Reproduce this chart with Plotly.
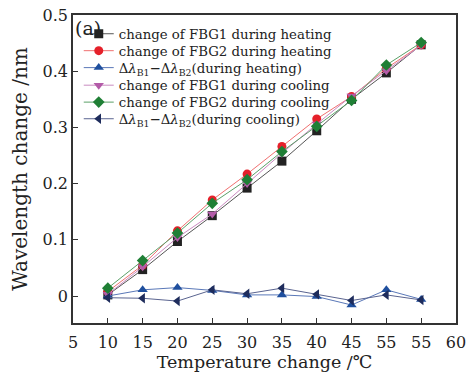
import plotly.graph_objects as go

temps = [10, 15, 20, 25, 30, 35, 40, 45, 50, 55]
tick_vals = [5, 10, 15, 20, 25, 30, 35, 40, 45, 50, 55, 60]
tick_text = ["5", "10", "15", "20", "25", "30", "35", "40", "45", "55", "55", "60"]

fbg1_heat = [0.002, 0.047, 0.097, 0.143, 0.192, 0.240, 0.294, 0.350, 0.397, 0.447]
fbg2_heat = [0.008, 0.055, 0.116, 0.171, 0.217, 0.266, 0.315, 0.355, 0.405, 0.447]
diff_heat = [0.000, 0.011, 0.015, 0.010, 0.002, 0.002, -0.001, -0.016, 0.011, -0.006]
fbg1_cool = [0.003, 0.052, 0.104, 0.146, 0.200, 0.254, 0.306, 0.356, 0.401, 0.446]
fbg2_cool = [0.014, 0.063, 0.112, 0.165, 0.207, 0.257, 0.302, 0.348, 0.411, 0.451]
diff_cool = [-0.003, -0.004, -0.009, 0.011, 0.004, 0.014, 0.003, -0.008, 0.002, -0.007]

series = [
    ("change of FBG1 during heating", fbg1_heat, "#222222", "#555555", "square"),
    ("change of FBG2 during heating", fbg2_heat, "#e5202a", "#f07070", "circle"),
    ("Δ<i>λ</i><sub>B1</sub>−Δ<i>λ</i><sub>B2</sub>(during heating)", diff_heat, "#1f4f9e", "#5a78b8", "triangle-up"),
    ("change of FBG1 during cooling", fbg1_cool, "#b35ba8", "#c98ac0", "triangle-down"),
    ("change of FBG2 during cooling", fbg2_cool, "#1f7f35", "#5aa068", "diamond"),
    ("Δ<i>λ</i><sub>B1</sub>−Δ<i>λ</i><sub>B2</sub>(during cooling)", diff_cool, "#1e2c5c", "#5a6490", "triangle-left"),
]

font_family = "DejaVu Serif"
legend_rows = [0.938, 0.883, 0.828, 0.771, 0.716, 0.662]

fig = go.Figure()
layout_legends = {}
for i, (name, vals, mcol, lcol, sym) in enumerate(series):
    lg = "legend" if i == 0 else f"legend{i + 1}"
    fig.add_trace(go.Scatter(
        x=temps, y=vals, name=name, mode="lines+markers",
        line=dict(color=lcol, width=1),
        marker=dict(symbol=sym, size=9, color=mcol),
        legend=lg,
    ))
    layout_legends[lg] = dict(
        x=0.015, y=legend_rows[i], xanchor="left", yanchor="middle",
        bgcolor="rgba(0,0,0,0)", font=dict(size=13.3, family=font_family, color="#222"),
        itemwidth=30, borderwidth=0,
    )

fig.update_layout(
    width=468, height=374,
    margin=dict(l=73, r=12, t=15, b=51, autoexpand=False),
    paper_bgcolor="white", plot_bgcolor="white",
    font=dict(family=font_family, size=13, color="#222"),
    showlegend=True,
    xaxis=dict(range=[5, 60], tickvals=tick_vals, ticktext=tick_text,
               showline=True, linecolor="#333", linewidth=1.5, mirror=True,
               ticks="inside", ticklen=5, tickcolor="#333", showgrid=False, zeroline=False,
               automargin=False, ticklabelstandoff=4,
               title=dict(text="Temperature change /℃", font=dict(size=17.5), standoff=0),
               tickfont=dict(size=16)),
    yaxis=dict(range=[-0.048, 0.5], tickvals=[0, 0.1, 0.2, 0.3, 0.4, 0.5],
               ticktext=["0", "0.1", "0.2", "0.3", "0.4", "0.5"],
               showline=True, linecolor="#333", linewidth=1.5, mirror=True,
               ticks="inside", ticklen=5, tickcolor="#333", showgrid=False, zeroline=False,
               automargin=False,
               title=dict(text="Wavelength change /nm", font=dict(size=20), standoff=10),
               tickfont=dict(size=16)),
    annotations=[dict(text="(a)", x=0.0, y=1.0, xref="paper", yref="paper",
                      xanchor="left", yanchor="top", showarrow=False,
                      font=dict(size=19, family=font_family, color="#222"))],
    **layout_legends,
)

fig.write_html("out.html", config={"displayModeBar": False},
               post_script="document.body.style.margin='0';")
